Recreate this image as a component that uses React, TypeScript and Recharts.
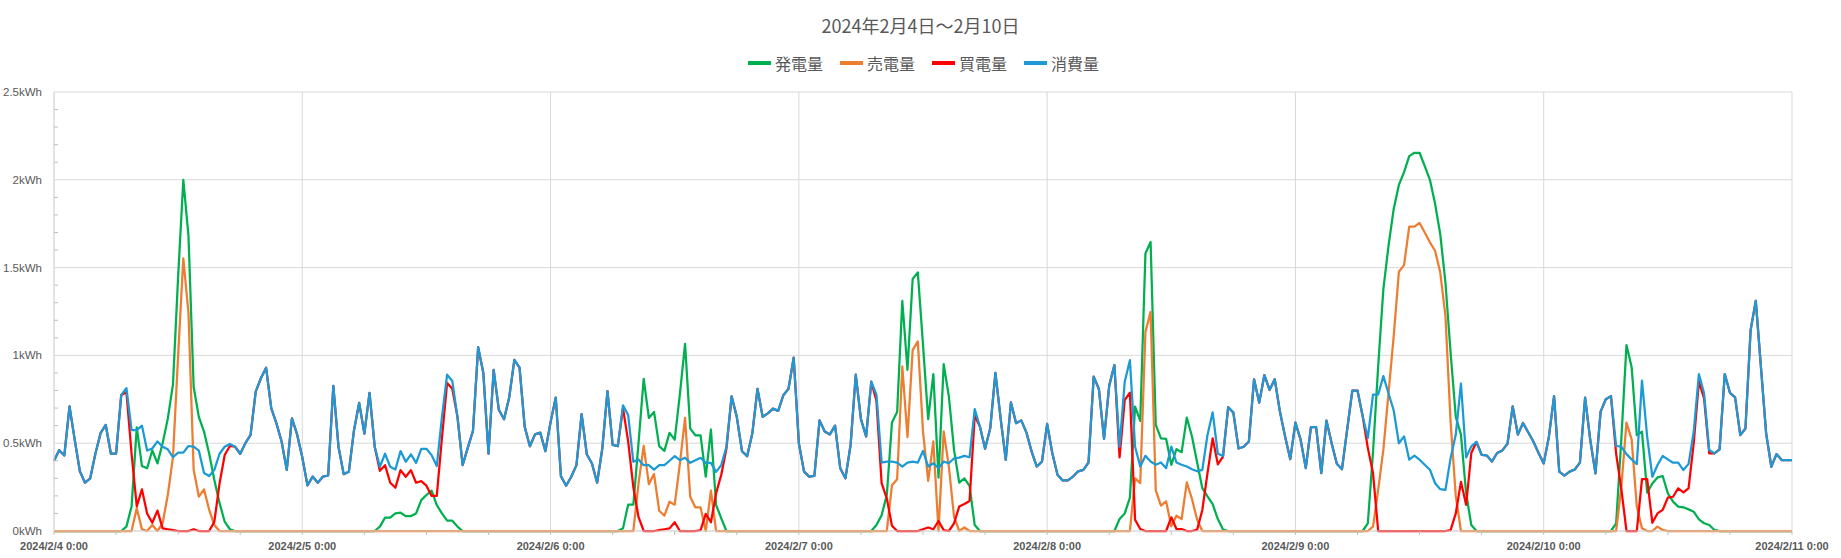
import React from 'react';
import { LineChart, Line, XAxis, YAxis, CartesianGrid, Legend } from 'recharts';

// 30分ごとの値 (kWh)、2024/2/4 0:00 〜 2024/2/11 0:00
const gen = [
  0,0,0,0,0,0,0,0, 0,0,0,0,0, 0,0.025,0.14,0.59,0.37,0.357,0.46,0.385,0.5,0.64,0.835,1.45,2.0,1.68,0.82,0.65,0.566,0.44,0.29,0.16,0.053,0.01, 0,0,0,0,0,0,0,0, 0,0,0,0,0,
  0,0,0,0,0,0,0,0, 0,0,0,0,0,0,0, 0.025,0.076,0.076,0.1,0.104,0.085,0.085,0.1,0.176,0.205,0.23,0.148,0.1,0.059,0.059,0.025, 0,0,0,0,0,0,0,0, 0,0,0,0,0,0,0,0, 0,
  0,0,0,0,0,0,0,0, 0,0,0,0,0,0, 0.015,0.15,0.15,0.5,0.867,0.644,0.678,0.483,0.456,0.559,0.52,0.78,1.066,0.583,0.545,0.545,0.309,0.578,0.148,0.072, 0,0,0,0,0,0,0,0, 0,0,0,0,0,0,
  0,0,0,0,0,0,0,0, 0,0,0,0,0,0,0, 0.034,0.09,0.205,0.618,0.677,1.31,0.918,1.435,1.473,1.06,0.637,0.894,0.304,0.95,0.766,0.462,0.276,0.3,0.257,0.034, 0,0,0,0,0,0,0,0, 0,0,0,0,0,
  0,0,0,0,0,0,0,0, 0,0,0,0,0,0, 0.068,0.1,0.19,0.708,0.627,1.58,1.646,0.604,0.528,0.525,0.377,0.466,0.449,0.646,0.538,0.39,0.244,0.197,0.153,0.068,0.008, 0,0,0,0,0,0,0,0, 0,0,0,0,0,
  0,0,0,0,0,0,0,0, 0,0,0,0,0,0, 0.044,0.45,0.94,1.377,1.625,1.834,1.971,2.044,2.135,2.154,2.154,2.078,2.0,1.863,1.69,1.415,1.015,0.65,0.549,0.215,0.034, 0,0,0,0,0,0,0,0, 0,0,0,0,0,
  0,0,0,0,0,0,0,0, 0,0,0,0,0,0, 0.044,0.52,1.059,0.932,0.546,0.565,0.218,0.271,0.305,0.313,0.214,0.167,0.139,0.135,0.123,0.11,0.066,0.044,0.034,0.006, 0,0,0,0,0,0,0,0, 0,0,0,0,0,0,
  0,
];

const sold = [
  0,0,0,0,0,0,0,0, 0,0,0,0,0,0,0,0, 0.13,0.01,0,0.034,0,0.044,0.205,0.42,1.0,1.553,1.24,0.348,0.196,0.237,0.12,0.034, 0,0,0,0,0,0,0,0, 0,0,0,0,0,0,0,0,
  0,0,0,0,0,0,0,0, 0,0,0,0,0,0,0,0, 0,0,0,0,0,0,0,0, 0,0,0,0,0,0,0,0, 0,0,0,0,0,0,0,0, 0,0,0,0,0,0,0,0,
  0,0,0,0,0,0,0,0, 0,0,0,0,0,0,0,0, 0, 0.27,0.485,0.267,0.324,0.115,0.087,0.167,0.15,0.384,0.644,0.195,0.134,0.134,0,0.23, 0,0,0,0,0,0,0,0, 0,0,0,0,0,0,0,0,
  0,0,0,0,0,0,0,0, 0,0,0,0,0,0,0,0, 0,0, 0.26,0.295,0.937,0.534,1.03,1.08,0.567,0.285,0.51,0,0.567,0.367,0.082,0,0.02, 0,0,0,0,0,0,0,0, 0,0,0,0,0,0,0,
  0,0,0,0,0,0,0,0, 0,0,0,0,0,0,0,0, 0, 0.3,0.273,1.134,1.248,0.231,0.144,0.169,0.027,0.087,0.068,0.277,0.182,0.064, 0,0,0,0,0,0,0,0, 0,0,0,0,0,0,0,0, 0,0,
  0,0,0,0,0,0,0,0, 0,0,0,0,0,0,0, 0.025,0.234,0.463,0.787,1.11,1.476,1.514,1.733,1.733,1.754,1.7,1.644,1.596,1.472,1.225,0.62,0.2, 0,0,0,0,0,0,0,0, 0,0,0,0,0,0,0,0,
  0,0,0,0,0,0,0,0, 0,0,0,0,0,0,0, 0.25,0.617,0.522,0.139,0.015,0,0,0.025,0.006, 0,0,0,0,0,0,0,0, 0,0,0,0,0,0,0,0, 0,0,0,0,0,0,0,0,
  0,
];

const bought = [
  0.4,0.46,0.43,0.71,0.52,0.34,0.275,0.3,0.44,0.557,0.604,0.44,0.44,0.775, 0.79,0.44,0.14,0.237,0.1,0.047,0.116,0.015,0.01,0.005,0,0,0,0.01,0,0,0,0.053,0.27,0.433,0.484, 0.48,0.44,0.5,0.547,0.794,0.87,0.93,0.7,0.613,0.51,0.348,0.642,0.55,
  0.42,0.26,0.31,0.275,0.31,0.316,0.826,0.48,0.324,0.337,0.574,0.73,0.555,0.786,0.48, 0.343,0.375,0.275,0.246,0.347,0.309,0.347,0.275,0.284,0.258,0.2,0.2,0.53,0.843,0.81, 0.65,0.375,0.475,0.57,1.047,0.9,0.44,0.918,0.69,0.636,0.76,0.975,0.93,0.593,0.483,0.55,0.56,0.455,
  0.62,0.76,0.3125,0.258,0.309,0.375,0.665,0.4375,0.384,0.275,0.47,0.797,0.49,0.483, 0.7,0.51,0.25,0.08,0,0,0,0.005,0.01,0.015,0.05,0,0,0,0,0.005,0.097,0.05,0.214,0.32,0.47, 0.767,0.65,0.455,0.426,0.555,0.81,0.65,0.67,0.697,0.684,0.773,0.81,0.987,
  0.5,0.338,0.31,0.314,0.63,0.567,0.55,0.6,0.357,0.3,0.49,0.89,0.637,0.538,0.85, 0.74,0.272,0.186,0.03,0,0,0,0,0,0.01,0.02,0.01,0.057,0.005,0,0.044,0.139,0.154,0.171,0.656, 0.595,0.468,0.585,0.9,0.643,0.405,0.732,0.614,0.63,0.56,0.452,0.367,0.395,
  0.61,0.443,0.32,0.288,0.288,0.31,0.34,0.348,0.39,0.879,0.809,0.525,0.828,0.945, 0.419,0.746,0.788,0.064,0.011,0,0,0,0,0,0.078,0.011,0.011,0,0,0.008,0.12,0.33,0.528,0.38,0.424, 0.705,0.674,0.47,0.48,0.51,0.864,0.731,0.888,0.803,0.864,0.68,0.538,0.409,
  0.617,0.52,0.358,0.592,0.592,0.33,0.629,0.5,0.383,0.352,0.577,0.8,0.8,0.653, 0.472,0.33,0,0,0,0,0,0,0,0,0,0,0,0,0,0,0.005,0.1,0.28,0.149,0.444, 0.507,0.434,0.43,0.396,0.444,0.459,0.497,0.71,0.549,0.615,0.562,0.51,0.444,
  0.385,0.537,0.768,0.338,0.315,0.338,0.35,0.389,0.76,0.518,0.328,0.68,0.75,0.768, 0.44,0.24,0,0,0,0.296,0.296,0.047,0.1,0.12,0.19,0.195,0.243,0.22,0.243,0.5,0.85,0.755,0.442,0.442, 0.465,0.894,0.787,0.761,0.546,0.584,1.144,1.311,0.932,0.556,0.366,0.438,0.404,0.404,
  0.404,
];

const used = [
  0.4,0.46,0.43,0.71,0.52,0.34,0.275,0.3,0.44,0.557,0.604,0.44,0.44,0.775,0.813,0.575,0.575,0.6,0.458,0.47,0.51,0.48,0.465,0.42,0.446,0.446,0.484,0.48,0.458,0.33,0.313,0.348,0.44,0.48,0.496,0.48,0.44,0.5,0.547,0.794,0.87,0.93,0.7,0.613,0.51,0.348,0.642,0.55,
  0.42,0.26,0.31,0.275,0.31,0.316,0.826,0.48,0.324,0.337,0.574,0.73,0.555,0.786,0.48,0.366,0.44,0.366,0.35,0.455,0.394,0.437,0.388,0.468,0.468,0.432,0.37,0.65,0.89,0.854,0.65,0.375,0.475,0.57,1.047,0.9,0.44,0.918,0.69,0.636,0.76,0.975,0.93,0.593,0.483,0.55,0.56,0.455,
  0.62,0.76,0.3125,0.258,0.309,0.375,0.665,0.4375,0.384,0.275,0.47,0.797,0.49,0.483,0.716,0.66,0.394,0.407,0.375,0.375,0.35,0.375,0.375,0.4,0.426,0.403,0.417,0.388,0.403,0.417,0.388,0.388,0.337,0.375,0.48,0.767,0.65,0.455,0.426,0.555,0.81,0.65,0.67,0.697,0.684,0.773,0.81,0.987,
  0.5,0.338,0.31,0.314,0.63,0.567,0.55,0.6,0.357,0.3,0.49,0.89,0.637,0.538,0.85,0.776,0.39,0.395,0.395,0.39,0.367,0.39,0.395,0.39,0.456,0.367,0.386,0.357,0.395,0.386,0.414,0.418,0.428,0.42,0.694,0.595,0.468,0.585,0.9,0.643,0.405,0.732,0.614,0.63,0.56,0.452,0.367,0.395,
  0.61,0.443,0.32,0.288,0.288,0.31,0.34,0.348,0.39,0.879,0.809,0.525,0.828,0.945,0.48,0.85,0.973,0.48,0.367,0.428,0.396,0.377,0.39,0.358,0.48,0.39,0.377,0.367,0.352,0.34,0.348,0.547,0.676,0.44,0.428,0.705,0.674,0.47,0.48,0.51,0.864,0.731,0.888,0.803,0.864,0.68,0.538,0.409,
  0.617,0.52,0.358,0.592,0.592,0.33,0.629,0.5,0.383,0.352,0.577,0.8,0.8,0.653,0.53,0.777,0.777,0.882,0.783,0.686,0.5,0.539,0.406,0.429,0.406,0.377,0.349,0.272,0.238,0.234,0.415,0.549,0.84,0.419,0.482,0.507,0.434,0.43,0.396,0.444,0.459,0.497,0.71,0.549,0.615,0.562,0.51,0.444,
  0.385,0.537,0.768,0.338,0.315,0.338,0.35,0.389,0.76,0.518,0.328,0.68,0.75,0.768,0.484,0.48,0.438,0.408,0.381,0.856,0.537,0.309,0.376,0.427,0.408,0.389,0.389,0.347,0.381,0.565,0.894,0.784,0.461,0.442,0.465,0.894,0.787,0.761,0.546,0.584,1.144,1.311,0.932,0.556,0.366,0.438,0.404,0.404,
  0.404,
];

const dayTicks = [0, 48, 96, 144, 192, 240, 288, 336];
const dayLabels = ['2024/2/4 0:00', '2024/2/5 0:00', '2024/2/6 0:00', '2024/2/7 0:00', '2024/2/8 0:00', '2024/2/9 0:00', '2024/2/10 0:00', '2024/2/11 0:00'];
const hourTicks = [0, 12, 24, 36, 48, 60, 72, 84, 96, 108, 120, 132, 144, 156, 168, 180, 192, 204, 216, 228, 240, 252, 264, 276, 288, 300, 312, 324, 336];
const yMajor = [0, 0.5, 1, 1.5, 2, 2.5];
const yTicks = [0, 0.1, 0.2, 0.3, 0.4, 0.5, 0.6, 0.7, 0.8, 0.9, 1, 1.1, 1.2, 1.3, 1.4, 1.5, 1.6, 1.7, 1.8, 1.9, 2, 2.1, 2.2, 2.3, 2.4, 2.5];

const seriesDefs = [
  { key: 'gen', name: '発電量', color: '#00b050' },
  { key: 'sold', name: '売電量', color: '#ed7d31' },
  { key: 'bought', name: '買電量', color: '#ff0000' },
  { key: 'used', name: '消費量', color: '#1b9ad6' },
];

const rows = used.map((_, i) => ({ i, gen: gen[i], sold: sold[i], bought: bought[i], used: used[i] }));

const textColor = '#595959';
const gridColor = '#d9d9d9';

const YTick = (props: any) => {
  const { x, y, payload } = props;
  const v = payload.value;
  if (yMajor.some((m) => Math.abs(m - v) < 1e-6)) {
    return (
      <text x={x} y={y} dy={4} textAnchor="end" fill={textColor} fontSize={11.5} fontFamily="'Liberation Sans', Arial, sans-serif">
        {`${v}kWh`}
      </text>
    );
  }
  // minor tick drawn inside the plot
  return <line x1={x + 12} x2={x + 16} y1={y} y2={y} stroke="#bfbfbf" />;
};

const XTick = (props: any) => {
  const { x, y, payload } = props;
  const idx = dayTicks.indexOf(payload.value);
  if (idx < 0) return <g />;
  return (
    <text x={x} y={y} dy="0.71em" textAnchor="middle" fill={textColor} fontSize={11} fontWeight="bold" fontFamily="'Liberation Sans', Arial, sans-serif">
      {dayLabels[idx]}
    </text>
  );
};

const LegendContent = () => (
  <div style={{ display: 'flex', alignItems: 'center', fontFamily: "'Noto Sans CJK JP', sans-serif", fontSize: 16, color: textColor, lineHeight: '18px' }}>
    {seriesDefs.map((s) => (
      <div key={s.key} style={{ display: 'flex', alignItems: 'center', marginRight: 17 }}>
        <span style={{ display: 'inline-block', width: 23, height: 3.5, background: s.color, marginRight: 4 }} />
        <span>{s.name}</span>
      </div>
    ))}
  </div>
);

export default function App() {
  return (
    <div style={{ position: 'absolute', left: 0, top: 0, width: 1841, height: 558, background: '#fff' }}>
      <div
        style={{
          position: 'absolute',
          left: 0,
          top: 14,
          width: 1841,
          textAlign: 'center',
          fontFamily: "'Noto Sans CJK JP', sans-serif",
          fontSize: 18,
          lineHeight: '22px',
          color: textColor,
        }}
      >
        2024年2月4日～2月10日
      </div>
      <LineChart width={1841} height={558} data={rows} margin={{ top: 92, right: 49, bottom: 7, left: 4 }}>
        <CartesianGrid stroke={gridColor} horizontalValues={yMajor} verticalValues={dayTicks} />
        <XAxis
          dataKey="i"
          type="number"
          domain={[0, 336]}
          ticks={hourTicks}
          interval={0}
          height={20}
          tickSize={4}
          tickMargin={7}
          tickLine={{ stroke: '#bfbfbf' }}
          axisLine={{ stroke: gridColor }}
          tick={<XTick />}
        />
        <YAxis
          type="number"
          domain={[0, 2.5]}
          ticks={yTicks}
          interval={0}
          width={50}
          tickSize={0}
          tickMargin={12}
          tickLine={false}
          axisLine={{ stroke: gridColor }}
          tick={<YTick />}
        />
        <Legend
          layout="horizontal"
          verticalAlign="middle"
          align="center"
          wrapperStyle={{ left: 748, top: 54, width: 420, height: 18 }}
          content={<LegendContent />}
        />
        {seriesDefs.map((s) => (
          <Line
            key={s.key}
            type="linear"
            dataKey={s.key}
            name={s.name}
            stroke={s.color}
            strokeWidth={2.25}
            strokeLinejoin="round"
            dot={false}
            activeDot={false}
            isAnimationActive={false}
          />
        ))}
      </LineChart>
    </div>
  );
}
